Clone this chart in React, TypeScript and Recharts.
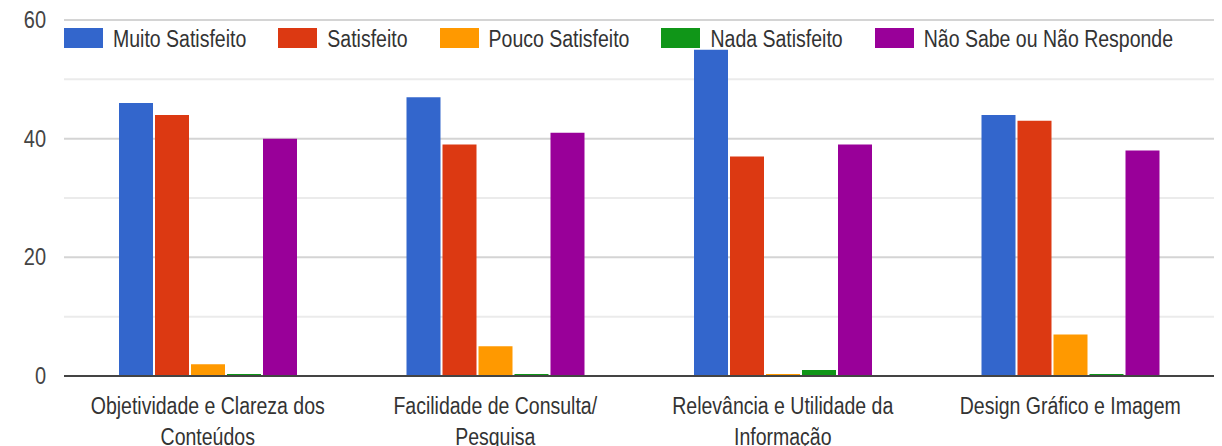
import React from "react";
import {
  BarChart,
  Bar,
  XAxis,
  YAxis,
  CartesianGrid,
} from "recharts";

const categories = [
  "Objetividade e Clareza dos\nConteúdos",
  "Facilidade de Consulta/\nPesquisa",
  "Relevância e Utilidade da\nInformação",
  "Design Gráfico e Imagem",
];

const muitoSatisfeito = [46, 47, 55, 44];
const satisfeito = [44, 39, 37, 43];
const poucoSatisfeito = [2, 5, 0, 7];
const nadaSatisfeito = [0, 0, 1, 0];
const naoSabe = [40, 41, 39, 38];

const yTicks = [0, 10, 20, 30, 40, 50, 60];

const series = [
  { key: "muito", name: "Muito Satisfeito", color: "#3366cc", values: muitoSatisfeito },
  { key: "satisfeito", name: "Satisfeito", color: "#dc3912", values: satisfeito },
  { key: "pouco", name: "Pouco Satisfeito", color: "#ff9900", values: poucoSatisfeito },
  { key: "nada", name: "Nada Satisfeito", color: "#109618", values: nadaSatisfeito },
  { key: "naoSabe", name: "Não Sabe ou Não Responde", color: "#990099", values: naoSabe },
];

const data = categories.map((name, i) => {
  const row: any = { name };
  series.forEach((s) => {
    row[s.key] = s.values[i];
  });
  return row;
});

const FONT = '"Liberation Sans", Arial, sans-serif';

// labels in the original look vertically stretched
const XTick = ({ x, y, payload }: any) => {
  const lines = String(payload.value).split("\n");
  return (
    <g>
      {lines.map((line, i) => (
        <text
          key={i}
          transform={`translate(${x}, ${y + 38 + i * 31}) scale(1, 1.25)`}
          textAnchor="middle"
          fontSize={19.5}
          fontFamily={FONT}
          fill="#333"
        >
          {line}
        </text>
      ))}
    </g>
  );
};

const YTick = ({ x, y, payload }: any) => {
  if (payload.value % 20 !== 0) return null;
  return (
    <text
      transform={`translate(${x}, ${y + 8}) scale(1, 1.15)`}
      textAnchor="end"
      fontSize={20}
      fontFamily={FONT}
      fill="#444"
    >
      {payload.value}
    </text>
  );
};

const GridLine = (props: any) => {
  const major = props.index % 2 === 0;
  return (
    <line
      key={props.key}
      x1={props.x1}
      x2={props.x2}
      y1={props.y1}
      y2={props.y2}
      stroke={major ? "#d4d4d4" : "#ebebeb"}
      strokeWidth={2}
    />
  );
};

export default function App() {
  return (
    <div style={{ position: "absolute", left: 0, top: 0, width: 1222, height: 446, background: "#fff" }}>
      <BarChart
        width={1222}
        height={446}
        data={data}
        margin={{ top: 20, right: 8, bottom: 0, left: 0 }}
        barCategoryGap={55}
        barGap={2}
      >
        <CartesianGrid vertical={false} horizontal={GridLine} />
        <XAxis
          dataKey="name"
          interval={0}
          height={70}
          tickLine={false}
          tickSize={0}
          tickMargin={0}
          axisLine={{ stroke: "#444", strokeWidth: 2 }}
          tick={<XTick />}
        />
        <YAxis
          width={64}
          domain={[0, 60]}
          ticks={yTicks}
          axisLine={false}
          tickLine={false}
          tickSize={6}
          tickMargin={12}
          tick={<YTick />}
        />
        {series.map((s) => (
          <Bar
            key={s.key}
            dataKey={s.key}
            name={s.name}
            fill={s.color}
            minPointSize={2}
            isAnimationActive={false}
          />
        ))}
      </BarChart>
      <div
        style={{
          position: "absolute",
          left: 64,
          top: 28,
          display: "flex",
          alignItems: "center",
          fontFamily: FONT,
          fontSize: 19.5,
          color: "#333",
          whiteSpace: "nowrap",
        }}
      >
        {series.map((s) => (
          <div key={s.key} style={{ display: "flex", alignItems: "center", marginRight: 32 }}>
            <span style={{ width: 39, height: 20, background: s.color, display: "inline-block", marginRight: 10 }} />
            <span style={{ display: "inline-block", transform: "scaleY(1.25)", lineHeight: "20px" }}>{s.name}</span>
          </div>
        ))}
      </div>
    </div>
  );
}
